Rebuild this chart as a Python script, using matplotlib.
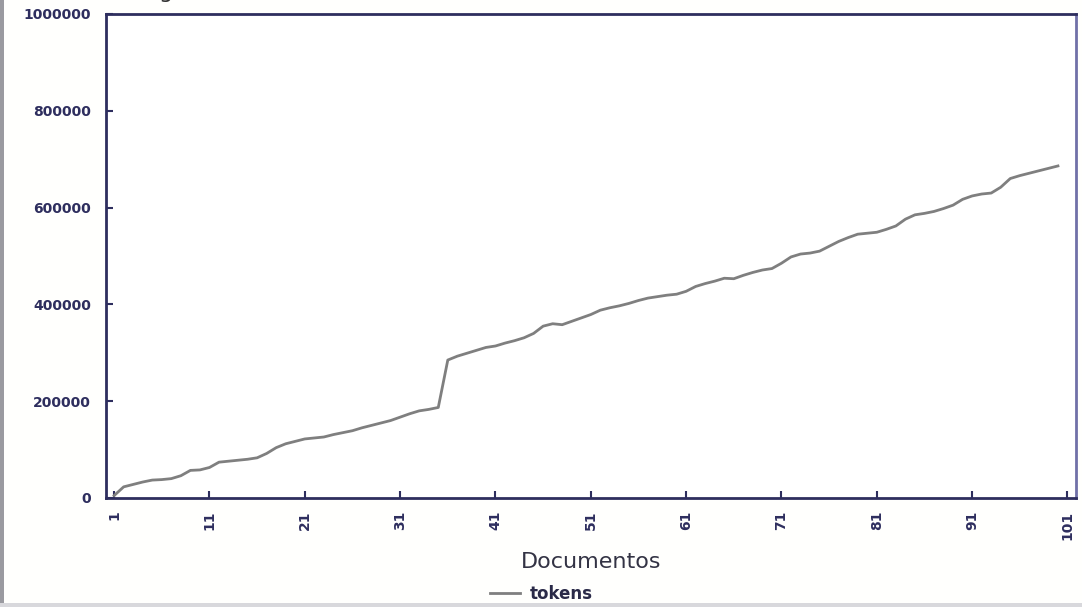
import numpy as np
import matplotlib.pyplot as plt
from matplotlib.patches import Rectangle

# Data
docs = np.arange(1, 101)
tokens = [
    5000, 23000, 28000, 33000, 37000, 38000, 40000, 46000, 57000, 58000,
    63000, 74000, 76000, 78000, 80000, 83000, 92000, 104000, 112000, 117000,
    122000, 124000, 126000, 131000, 135000, 139000, 145000, 150000, 155000, 160000,
    167000, 174000, 180000, 183000, 187000, 285000, 293000, 299000, 305000, 311000,
    314000, 320000, 325000, 331000, 340000, 355000, 360000, 358000, 365000, 372000,
    379000, 388000, 393000, 397000, 402000, 408000, 413000, 416000, 419000, 421000,
    427000, 437000, 443000, 448000, 454000, 453000, 460000, 466000, 471000, 474000,
    485000, 498000, 504000, 506000, 510000, 520000, 530000, 538000, 545000, 547000,
    549000, 555000, 562000, 576000, 585000, 588000, 592000, 598000, 605000, 617000,
    624000, 628000, 630000, 642000, 660000, 666000, 671000, 676000, 681000, 686000,
]
x_ticks = list(range(1, 102, 10))
y_ticks = [0, 200000, 400000, 600000, 800000, 1000000]
series_name = "tokens"
x_title = "Documentos"

navy = "#2e2e5e"

fig = plt.figure(figsize=(10.82, 6.07), dpi=100)
fig.patch.set_facecolor("#fffffd")
ax = fig.add_axes([0.098, 0.1796, 0.8965, 0.7974])

ax.plot(docs, tokens, color="#7f7f7f", linewidth=2.0, label=series_name)

ax.set_xlim(0.15, 101.9)
ax.set_ylim(0, 1000000)
ax.set_xticks(x_ticks)
ax.set_yticks(y_ticks)
ax.set_xticklabels([str(v) for v in x_ticks], rotation=90)
ax.set_yticklabels([str(v) for v in y_ticks])

for lab in ax.get_xticklabels() + ax.get_yticklabels():
    lab.set_family("DejaVu Sans")
    lab.set_fontweight("bold")
    lab.set_fontsize(10)
    lab.set_color(navy)

ax.tick_params(direction="in", length=5, width=1.5, color=navy)
ax.tick_params(axis="x", pad=9)
ax.tick_params(axis="y", pad=11)

for side in ["left", "bottom", "top"]:
    ax.spines[side].set_color(navy)
    ax.spines[side].set_linewidth(2)
ax.spines["right"].set_color("#7070a8")
ax.spines["right"].set_linewidth(2)

ax.set_xlabel(x_title, fontsize=16, color="#333344", labelpad=9)

fig.legend(loc="center", bbox_to_anchor=(0.5, 0.021), frameon=False,
           handlelength=1.8, handletextpad=0.6,
           prop={"weight": "semibold", "size": 12}, labelcolor="#2a2a48")

# title cut off at the top of the picture, only its descender shows
fig.text(0.147, 1.0 + 1.5 / 607, "g", fontsize=16, color="#333333",
         va="baseline")

# picture frame
fig.add_artist(Rectangle((0.0, 0.0), 0.004, 1.0, transform=fig.transFigure,
                         color="#9a9aa0", lw=0))
fig.add_artist(Rectangle((0.0, 0.0), 1.0, 0.007, transform=fig.transFigure,
                         color="#d8d8dc", lw=0))

fig.savefig("out.png", dpi=100, facecolor=fig.get_facecolor())
